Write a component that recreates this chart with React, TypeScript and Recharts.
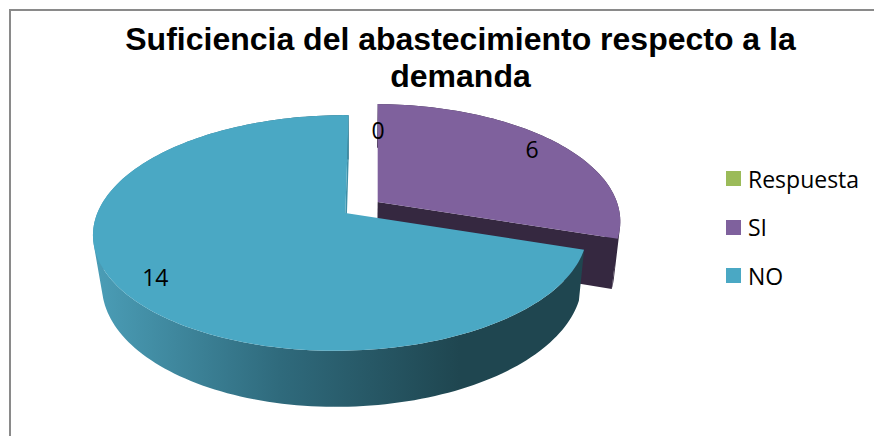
import React from 'react';
import { PieChart, Pie, Cell, Legend } from 'recharts';

// Survey answers, drawn clockwise from twelve o'clock
const answers = ['Respuesta', 'SI', 'NO'];
const counts = [0, 6, 14];
const rows = answers.map((name, i) => ({ name, value: counts[i] }));

const TITLE_LINES = ['Suficiencia del abastecimiento respecto a la', 'demanda'];

const topColors: Record<string, string> = { Respuesta: '#9bbb59', SI: '#7f619d', NO: '#4aa8c4' };
const wallColors: Record<string, string> = { Respuesta: '#9bbb59', SI: '#352840', NO: 'url(#noWall)' };
const cutColors: Record<string, string> = { Respuesta: '#9bbb59', SI: '#352840', NO: '#3f8fa7' };

// Camera model of the tilted disc
const TILT = 0.47;
const PERSPECTIVE_Y = 0.169;
const PERSPECTIVE_X = 0.018;
const SKEW_RATE = 0.12;
const SKEW_ORIGIN_X = 378;
const EXPLODE = 20;
const LABEL_RADIUS = 0.86;
const ARC_STEP = 1.5;
const ZERO_LABEL_SHIFT = { x: 15, y: 18 };
const WALL_AXIS_X = 348;

type Pt = { x: number; y: number };

const rad = (deg: number) => (deg * Math.PI) / 180;

// Angle is measured clockwise from the top of the disc
function project(cx: number, cy: number, R: number, angle: number, r: number): Pt {
  const u = r * Math.sin(rad(angle));
  const v = -r * Math.cos(rad(angle));
  const w = 1 - PERSPECTIVE_Y * v + PERSPECTIVE_X * u;
  const skew = (cx - SKEW_ORIGIN_X) * SKEW_RATE;
  return { x: cx + (R * u + skew * v) / w, y: cy + (R * TILT * v) / w };
}

// Bottom edge of the disc: it sits lower and narrows slightly with distance
const extrude = (p: Pt): Pt => {
  const dx = p.x - WALL_AXIS_X;
  return { x: p.x - dx * (dx < 0 ? 0.035 : 0.022), y: p.y * 1.05 + 38.5 };
};

const toPath = (pts: Pt[]) =>
  pts.map((p, i) => `${i ? 'L' : 'M'}${p.x.toFixed(2)} ${p.y.toFixed(2)}`).join(' ') + ' Z';

const signedArea = (pts: Pt[]) =>
  pts.reduce((sum, p, i) => {
    const q = pts[(i + 1) % pts.length];
    return sum + p.x * q.y - q.x * p.y;
  }, 0);

// One path of same-wound quads, so the folded part of the wall leaves no hole
function wallPath(rim: Pt[]) {
  const quads: string[] = [];
  for (let i = 0; i < rim.length - 1; i++) {
    const quad = [rim[i], rim[i + 1], extrude(rim[i + 1]), extrude(rim[i])];
    quads.push(toPath(signedArea(quad) < 0 ? quad.reverse() : quad));
  }
  return quads.join(' ');
}

const explodedCentre = (cx: number, cy: number, mid: number) => ({
  x: cx + Math.sin(rad(mid)) * EXPLODE,
  y: cy - Math.cos(rad(mid)) * EXPLODE * TILT,
});

function DiscSlice(props: any) {
  const { cx, cy, outerRadius, startAngle, endAngle, name } = props;
  const from = 90 - startAngle;
  const to = 90 - endAngle;
  if (Math.abs(to - from) < 0.01) return null;
  const c = explodedCentre(cx, cy, (from + to) / 2);
  const rim: Pt[] = [];
  const steps = Math.ceil((to - from) / ARC_STEP);
  for (let i = 0; i <= steps; i++) {
    rim.push(project(c.x, c.y, outerRadius, from + ((to - from) * i) / steps, 1));
  }
  const apex = { x: c.x, y: c.y };
  const cutEdge = rim[rim.length - 1];
  return (
    <g>
      <defs>
        <linearGradient id="noWall" gradientUnits="userSpaceOnUse" x1="100" y1="0" x2="460" y2="0">
          <stop offset="0" stopColor="#4a9cb5" />
          <stop offset="0.5" stopColor="#2f6a7c" />
          <stop offset="1" stopColor="#1f4650" />
        </linearGradient>
      </defs>
      <path d={wallPath(rim)} fill={wallColors[name]} />
      <path d={toPath([apex, cutEdge, extrude(cutEdge), extrude(apex)])} fill={cutColors[name]} />
      <path d={toPath([apex, ...rim])} fill={topColors[name]} />
    </g>
  );
}

function SliceValue(props: any) {
  const { cx, cy, outerRadius, startAngle, endAngle, value } = props;
  const mid = 90 - (startAngle + endAngle) / 2;
  const c = explodedCentre(cx, cy, mid);
  const p = project(c.x, c.y, outerRadius, mid, LABEL_RADIUS);
  const shift = value === 0 ? ZERO_LABEL_SHIFT : { x: 0, y: 0 };
  return (
    <text
      x={p.x + shift.x}
      y={p.y + shift.y}
      textAnchor="middle"
      dominantBaseline="central"
      fontFamily="'Open Sans', sans-serif"
      fontSize={23}
      fill="#000"
    >
      {value}
    </text>
  );
}

function AnswerLegend({ payload }: any) {
  return (
    <div style={{ position: 'relative', width: 874, height: 436 }}>
      {(payload ?? []).map((item: any, i: number) => (
        <div key={item.value} style={{ position: 'absolute', left: 726, top: 171 + i * 48.5, display: 'flex', alignItems: 'center', height: 15 }}>
          <span style={{ width: 15, height: 15, background: topColors[item.value], marginRight: 7 }} />
          <span style={{ fontFamily: "'Open Sans', sans-serif", fontSize: 23, color: '#000', whiteSpace: 'nowrap' }}>{item.value}</span>
        </div>
      ))}
    </div>
  );
}

export default function App() {
  return (
    <div style={{ position: 'absolute', left: 0, top: 0, width: 874, height: 436, overflow: 'hidden', background: '#fff' }}>
      <div style={{ position: 'absolute', left: 9, top: 9, right: -4, bottom: -4, borderLeft: '2px solid #8a8a8a', borderTop: '2px solid #8a8a8a' }} />
      <PieChart width={874} height={436} margin={{ top: 0, right: 0, bottom: 0, left: 0 }} style={{ position: 'absolute', left: 0, top: 0 }}>
        {TITLE_LINES.map((line, i) => (
          <text key={line} x={460.5} y={50 + i * 37} textAnchor="middle" fontFamily="'Liberation Sans', Arial, sans-serif" fontWeight={700} fontSize={32} fill="#000">
            {line}
          </text>
        ))}
        <Pie
          data={rows}
          dataKey="value"
          nameKey="name"
          cx={361.5}
          cy={207.5}
          outerRadius={243.5}
          startAngle={90}
          endAngle={-270}
          stroke="none"
          isAnimationActive={false}
          shape={DiscSlice}
          label={SliceValue}
          labelLine={false}
        >
          {answers.map((a) => (
            <Cell key={a} fill={topColors[a]} />
          ))}
        </Pie>
        <Legend itemSorter={null} content={AnswerLegend} wrapperStyle={{ left: 0, top: 0, width: 874, height: 436, position: 'absolute' }} />
      </PieChart>
    </div>
  );
}
